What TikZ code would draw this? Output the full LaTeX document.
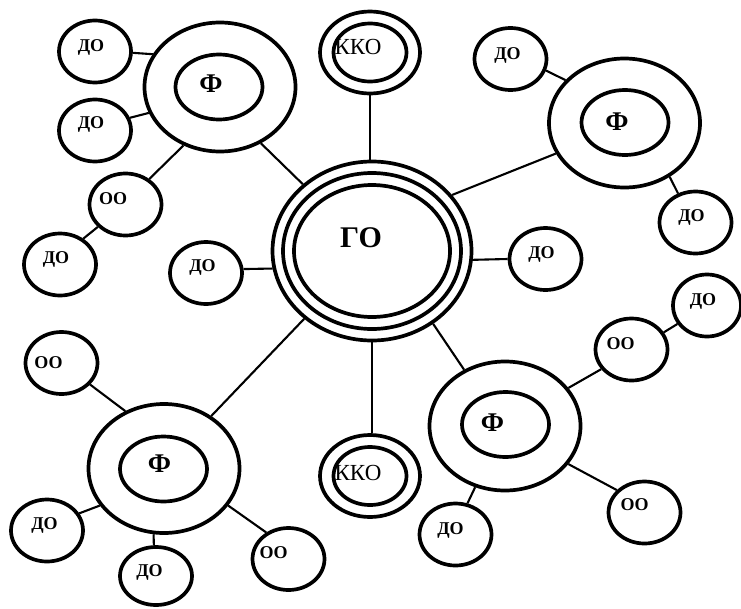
\documentclass[tikz,border=0pt]{standalone}
\usepackage{fontspec}
\setmainfont{Liberation Serif}
\usetikzlibrary{shapes.geometric}
\begin{document}
\begin{tikzpicture}[x=1pt,y=-1pt,
  ell/.style={ellipse,draw,line width=3.7pt,inner sep=0pt},
  small/.style={ell,minimum width=72pt,minimum height=62pt},
  fout/.style={ell,minimum width=151pt,minimum height=129pt},
  fin/.style={ell,minimum width=87pt,minimum height=65pt},
  conn/.style={line width=2.1pt},
  lbl/.style={inner sep=0pt,font=\fontsize{18}{20}\selectfont\bfseries},
  flbl/.style={inner sep=0pt,font=\fontsize{27}{30}\selectfont\bfseries},
  klbl/.style={inner sep=0pt,font=\fontsize{23}{25}\selectfont},
  glbl/.style={inner sep=0pt,font=\fontsize{30}{32}\selectfont\bfseries}]
\useasboundingbox (0,0) rectangle (741,608);

% central node
\node[ell,minimum width=199pt,minimum height=179pt] (go) at (372,251) {};
\node[ell,minimum width=178pt,minimum height=156pt] (gomid) at (372,251) {};
\node[ell,minimum width=156pt,minimum height=132pt] (goin) at (372,251) {};
\node[glbl] (tgo) at (361,238) {ГО};

% KKO nodes
\node[ell,minimum width=100pt,minimum height=82pt] (kko1) at (370,52.5) {};
\node[ell,minimum width=73pt,minimum height=58pt] (kko1in) at (370,52.5) {};
\node[klbl] (tkko1) at (358,47) {ККО};
\node[ell,minimum width=100pt,minimum height=82pt] (kko2) at (370,476) {};
\node[ell,minimum width=73pt,minimum height=58pt] (kko2in) at (370,476) {};
\node[klbl] (tkko2) at (358,473) {ККО};

% F nodes
\node[fout] (ftl) at (220,87) {};
\node[fin] (ftlin) at (219,87) {};
\node[flbl] (tftl) at (211,84) {Ф};
\node[fout] (ftr) at (624.5,123) {};
\node[fin] (ftrin) at (625,122.5) {};
\node[flbl] (tftr) at (617,122) {Ф};
\node[fout] (fbr) at (505,426) {};
\node[fin] (fbrin) at (505.5,424.5) {};
\node[flbl] (tfbr) at (492.5,423) {Ф};
\node[fout] (fbl) at (164,468.5) {};
\node[fin] (fblin) at (163.5,469) {};
\node[flbl] (tfbl) at (159.5,464) {Ф};

% small nodes
\node[small] (d1) at (95,51.5) {};
\node[lbl] (td1) at (91,47) {ДО};
\node[small] (d2) at (95,130.5) {};
\node[lbl] (td2) at (91,124) {ДО};
\node[small] (o1) at (125.5,204.5) {};
\node[lbl] (to1) at (113,199) {ОО};
\node[small] (d3) at (60,264.5) {};
\node[lbl] (td3) at (56,259) {ДО};
\node[small] (d4) at (206,273) {};
\node[lbl] (td4) at (202.5,267) {ДО};
\node[small] (d5) at (510.5,59) {};
\node[lbl] (td5) at (507.5,55) {ДО};
\node[small] (d6) at (695.5,222.5) {};
\node[lbl] (td6) at (691.5,217) {ДО};
\node[small] (d7) at (545.5,259) {};
\node[lbl] (td7) at (541.5,254) {ДО};
\node[small,minimum width=68pt] (d8) at (707,305.5) {};
\node[lbl] (td8) at (703,301.5) {ДО};
\node[small] (o2) at (631.5,349.5) {};
\node[lbl] (to2) at (620.5,343.5) {ОО};
\node[small] (d9) at (455.5,534.5) {};
\node[lbl] (td9) at (450.5,530) {ДО};
\node[small] (o3) at (644.5,512.5) {};
\node[lbl] (to3) at (634.5,505) {ОО};
\node[small] (o4) at (61.5,363) {};
\node[lbl] (to4) at (48.5,362.5) {ОО};
\node[small] (d10) at (47,530.5) {};
\node[lbl] (td10) at (44.5,525) {ДО};
\node[small,minimum height=58pt] (d11) at (156,576) {};
\node[lbl] (td11) at (149.5,572.5) {ДО};
\node[small] (o5) at (288.5,559) {};
\node[lbl] (to5) at (273.5,552.5) {ОО};

% connectors
\draw[conn] (d1.-2) -- (ftl.154);
\draw[conn] (d2.20) -- (ftl.200);
\draw[conn] (o1.47) -- (ftl.238);
\draw[conn] (o1.219) -- (d3.48);
\draw[conn] (d4.6) -- (go.190);
\draw[conn] (ftl.-54) -- (go.136);
\draw[conn] (kko1.south) -- (kko1.south |- go.north);
\draw[conn] (ftr.204) -- (go.35);
\draw[conn] (d5.-18) -- (ftr.144);
\draw[conn] (ftr.-50) -- (d6.121);
\draw[conn] (go.-5) -- (d7.180);
\draw[conn] (go.-50) -- (fbr.126);
\draw[conn] (fbr.31) -- (o2.213);
\draw[conn] (o2.28) -- (d8.212);
\draw[conn] (fbr.244) -- (d9.69);
\draw[conn] (fbr.-31) -- (o3.141);
\draw[conn] (go.south) -- (go.south |- kko2.north);
\draw[conn] (go.225) -- (fbl.48);
\draw[conn] (o4.-37) -- (fbl.124);
\draw[conn] (fbl.210) -- (d10.28);
\draw[conn] (fbl.261) -- (d11.94);
\draw[conn] (fbl.-30) -- (o5.130);
\end{tikzpicture}
\end{document}
